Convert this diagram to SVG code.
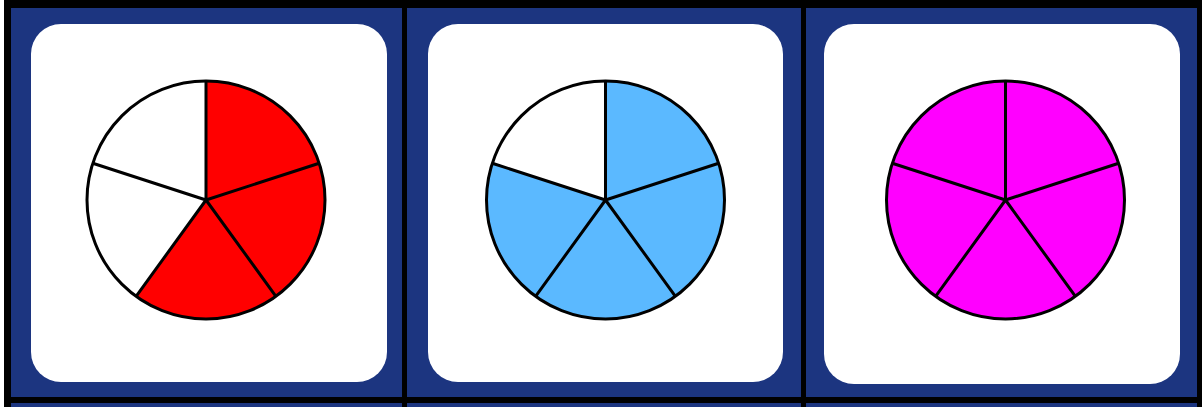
<svg xmlns="http://www.w3.org/2000/svg" width="1202" height="407" viewBox="0 0 1202 407">
<style>
.panel{fill:#1c3580}
.card{fill:#ffffff}
.edge{fill:none;stroke:#000;stroke-width:3;stroke-linejoin:round}
</style>
<rect x="0" y="0" width="1202" height="407" fill="#ffffff"/>
<rect x="4" y="0" width="1198" height="407" fill="#000"/>
<g id="frame">
<rect class="panel" x="11" y="8" width="391" height="389"/>
<rect class="panel" x="407" y="8" width="394" height="389"/>
<rect class="panel" x="806" y="8" width="391" height="389"/>
<rect class="panel" x="11" y="403" width="391" height="4"/>
<rect class="panel" x="407" y="403" width="394" height="4"/>
<rect class="panel" x="806" y="403" width="391" height="4"/>
</g>
<g id="card1">
<rect class="card" x="31" y="24" width="356" height="358" rx="30" ry="30"/>
<path d="M206,200 L206,81 A119,119 0 1 1 136.1,296.3 Z" fill="#ff0000"/>
<path d="M206,200 L136.1,296.3 A119,119 0 0 1 206,81 Z" fill="#ffffff"/>
<circle class="edge" cx="206" cy="200" r="119"/>
<path class="edge" d="M206,81 L206,200 L319.2,163.2 M206,200 L275.9,296.3 M206,200 L136.1,296.3 M206,200 L92.8,163.2"/>
</g>
<g id="card2">
<rect class="card" x="428" y="24" width="355" height="358" rx="30" ry="30"/>
<path d="M605.5,200 L605.5,81 A119,119 0 1 1 492.3,163.2 Z" fill="#5bb9ff"/>
<path d="M605.5,200 L492.3,163.2 A119,119 0 0 1 605.5,81 Z" fill="#ffffff"/>
<circle class="edge" cx="605.5" cy="200" r="119"/>
<path class="edge" d="M605.5,81 L605.5,200 L718.7,163.2 M605.5,200 L675.4,296.3 M605.5,200 L535.6,296.3 M605.5,200 L492.3,163.2"/>
</g>
<g id="card3">
<rect class="card" x="824" y="24" width="356" height="360" rx="30" ry="30"/>
<circle cx="1005.5" cy="200" r="119" fill="#ff00ff"/>
<circle class="edge" cx="1005.5" cy="200" r="119"/>
<path class="edge" d="M1005.5,81 L1005.5,200 L1118.7,163.2 M1005.5,200 L1075.4,296.3 M1005.5,200 L935.6,296.3 M1005.5,200 L892.3,163.2"/>
</g>
</svg>
